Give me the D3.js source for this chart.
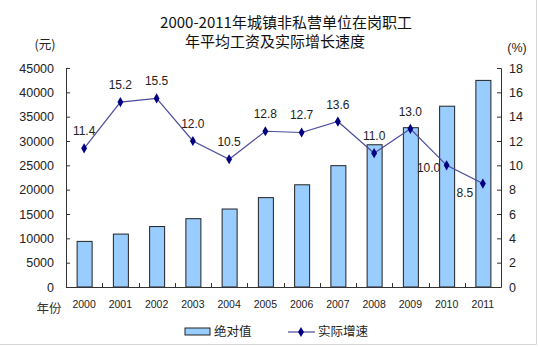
<!DOCTYPE html>
<html><head><meta charset="utf-8">
<script src="https://cdn.jsdelivr.net/npm/d3@7"></script>
<style>body{margin:0;background:#fff}svg{display:block}</style>
</head><body>
<script>
const years = ["2000","2001","2002","2003","2004","2005","2006","2007","2008","2009","2010","2011"];
const wages = [9371,10870,12422,14040,16024,18364,21001,24932,29229,32736,37147,42452];
const growth = [11.4,15.2,15.5,12.0,10.5,12.8,12.7,13.6,11.0,13.0,10.0,8.5];
const leftTicks = [0,5000,10000,15000,20000,25000,30000,35000,40000,45000];
const rightTicks = [0,2,4,6,8,10,12,14,16,18];
const title = ["2000-2011年城镇非私营单位在岗职工","年平均工资及实际增长速度"];

const W=538,H=347;
const svg=d3.select("body").append("svg").attr("width",W).attr("height",H);
const num="'Liberation Sans', Arial, sans-serif";
const cjk="'Noto Sans CJK SC', sans-serif";
const L=66,R=501,T=68,B=287;

svg.append("path").attr("d",`M${W-1.5},0V${H-2.5}H0`).attr("fill","none").attr("stroke","#d8d8d8");

const x=d3.scaleBand().domain(years).range([L,R]);
const yL=d3.scaleLinear().domain([0,45000]).range([B,T]);
const yR=d3.scaleLinear().domain([0,18]).range([B,T]);

// title
svg.append("text").attr("x",286).attr("y",28).attr("text-anchor","middle").attr("font-family",cjk).attr("font-size",15).attr("fill","#111").text(title[0]);
svg.append("text").attr("x",275).attr("y",47).attr("text-anchor","middle").attr("font-family",cjk).attr("font-size",15).attr("fill","#111").text(title[1]);
svg.append("text").attr("x",45).attr("y",49).attr("text-anchor","middle").attr("font-family",cjk).attr("font-size",12.5).attr("fill","#222").text("(元)");
svg.append("text").attr("x",517).attr("y",52).attr("text-anchor","middle").attr("font-family",num).attr("font-size",12.5).attr("fill","#222").text("(%)");

// bars
const bw=15;
svg.append("g").selectAll("rect").data(wages).join("rect")
 .attr("x",(d,i)=>x(years[i])+x.bandwidth()/2-bw/2+0.5)
 .attr("y",d=>yL(d)).attr("width",bw).attr("height",d=>B-yL(d))
 .attr("fill","#99ccff").attr("stroke","#222").attr("stroke-width",1);

// axes
const axC="#333";
const gl=svg.append("g").attr("transform",`translate(${L},0)`).call(d3.axisLeft(yL).tickValues(leftTicks).tickSize(-4).tickPadding(12).tickFormat(d3.format("d")));
const gr=svg.append("g").attr("transform",`translate(${R},0)`).call(d3.axisRight(yR).tickValues(rightTicks).tickSize(-4).tickPadding(8));
[gl,gr].forEach(g=>{g.select(".domain").attr("stroke",axC);g.selectAll("line").attr("stroke",axC);
 g.selectAll("text").attr("font-family",num).attr("font-size",12.5).attr("fill","#222");});
// bottom axis
svg.append("line").attr("x1",L).attr("x2",R).attr("y1",B+0.5).attr("y2",B+0.5).attr("stroke",axC);
svg.append("g").selectAll("line").data(years.slice(1)).join("line")
 .attr("x1",d=>Math.round(x(d))+0.5).attr("x2",d=>Math.round(x(d))+0.5).attr("y1",B).attr("y2",B-4).attr("stroke",axC);
svg.append("g").selectAll("text").data(years).join("text")
 .attr("x",d=>x(d)+x.bandwidth()/2).attr("y",308).attr("text-anchor","middle")
 .attr("font-family",num).attr("font-size",10.5).attr("fill","#222").text(d=>d);
svg.append("text").attr("x",49).attr("y",313).attr("text-anchor","middle").attr("font-family",cjk).attr("font-size",12.5).attr("fill","#333").text("年份");

// line
const cx=i=>x(years[i])+x.bandwidth()/2;
svg.append("path").datum(growth).attr("fill","none").attr("stroke","#4b4b9a").attr("stroke-width",1.2)
 .attr("d",d3.line().x((d,i)=>cx(i)).y(d=>yR(d)));
const diamond=d3.symbol().type(d3.symbolDiamond).size(30);
svg.append("g").selectAll("path").data(growth).join("path")
 .attr("transform",(d,i)=>`translate(${cx(i)},${yR(d)})`).attr("d",diamond).attr("fill","#000080");

// labels
const off={10:[-18,7],11:[-18,13]};
svg.append("g").selectAll("text").data(growth).join("text")
 .attr("x",(d,i)=>cx(i)+(off[i]?off[i][0]:0))
 .attr("y",(d,i)=>yR(d)+(off[i]?off[i][1]:-13))
 .attr("text-anchor","middle").attr("font-family",num).attr("font-size",12).attr("fill","#222")
 .text(d=>d.toFixed(1));

// legend
svg.append("rect").attr("x",185).attr("y",328).attr("width",25).attr("height",7).attr("fill","#99ccff").attr("stroke","#222");
svg.append("text").attr("x",214).attr("y",336).attr("font-family",cjk).attr("font-size",12.5).attr("fill","#222").text("绝对值");
svg.append("line").attr("x1",288).attr("x2",315).attr("y1",332).attr("y2",332).attr("stroke","#4b4b9a").attr("stroke-width",1.2);
svg.append("path").attr("transform","translate(301,332)").attr("d",diamond).attr("fill","#000080");
svg.append("text").attr("x",318).attr("y",336).attr("font-family",cjk).attr("font-size",12.5).attr("fill","#222").text("实际增速");
</script>
</body></html>
